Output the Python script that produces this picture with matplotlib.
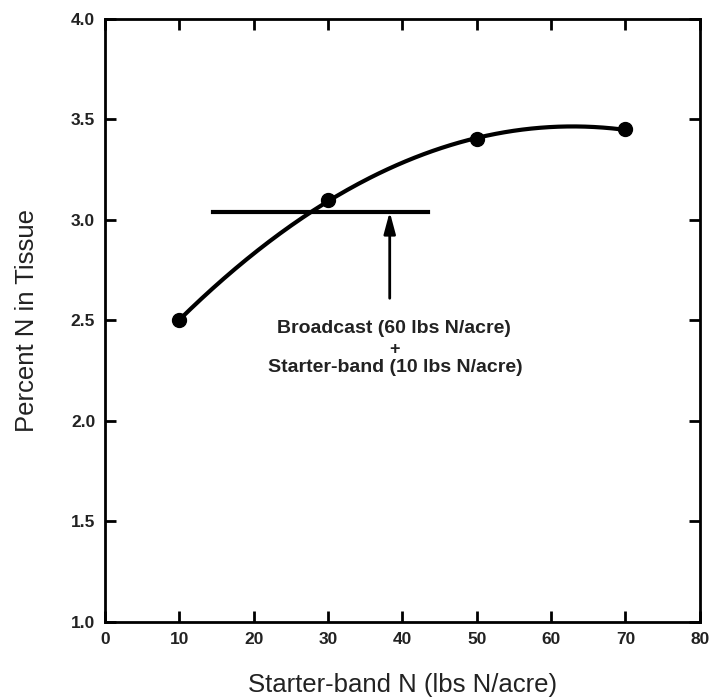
import numpy as np
import matplotlib
matplotlib.use("Agg")
import matplotlib.pyplot as plt

plt.rcParams['font.family'] = ['Liberation Sans', 'DejaVu Sans']

# measured points
starter_n = [10, 30, 50, 70]
pct_n = [2.50, 3.10, 3.40, 3.45]

# broadcast + starter reference line
ref_x = [14.5, 43.4]
ref_y = 3.04
arrow_x = 38.3
arrow_from = 2.61

x_ticks = [0, 10, 20, 30, 40, 50, 60, 70, 80]
y_ticks = [1.0, 1.5, 2.0, 2.5, 3.0, 3.5, 4.0]

fig = plt.figure(figsize=(7.09, 6.98), dpi=100)
ax = fig.add_axes([0.148, 0.109, 0.839, 0.864])

# quadratic fit through the points
coef = np.polyfit(starter_n, pct_n, 2)
xs = np.linspace(starter_n[0], starter_n[-1], 200)
ax.plot(xs, np.polyval(coef, xs), color='black', lw=3, solid_capstyle='round')
ax.plot(starter_n, pct_n, 'o', color='black', markersize=10)

ax.plot(ref_x, [ref_y, ref_y], color='black', lw=3)
ax.annotate('', xy=(arrow_x, ref_y), xytext=(arrow_x, arrow_from),
            arrowprops=dict(arrowstyle='-|>,head_length=1.3,head_width=0.35',
                            lw=2, color='black', shrinkA=0, shrinkB=0))

txt_x = 38.9
ax.text(txt_x, 2.46, 'Broadcast (60 lbs N/acre)', ha='center', va='center',
        fontsize=14, fontweight='bold', color='#222222')
ax.text(txt_x, 2.355, '+', ha='center', va='center',
        fontsize=13, fontweight='bold', color='#222222')
ax.text(txt_x + 0.2, 2.265, 'Starter-band (10 lbs N/acre)', ha='center', va='center',
        fontsize=14, fontweight='bold', color='#222222')

ax.set_xlim(0, 80)
ax.set_ylim(1.0, 4.0)
ax.set_xticks(x_ticks)
ax.set_yticks(y_ticks)
ax.set_yticklabels(['%.1f' % v for v in y_ticks])
ax.tick_params(direction='in', length=8, width=2, top=True, right=True,
               labelsize=12.5, pad=7, labelcolor='#222222')
for lab in ax.get_xticklabels() + ax.get_yticklabels():
    lab.set_fontweight('bold')
for sp in ax.spines.values():
    sp.set_linewidth(2)

ax.set_xlabel('Starter-band N (lbs N/acre)', fontsize=18.5, labelpad=19, color='#222222')
ax.set_ylabel('Percent N in Tissue', fontsize=18.5, labelpad=23, color='#222222')

fig.savefig('out.png', dpi=100)
